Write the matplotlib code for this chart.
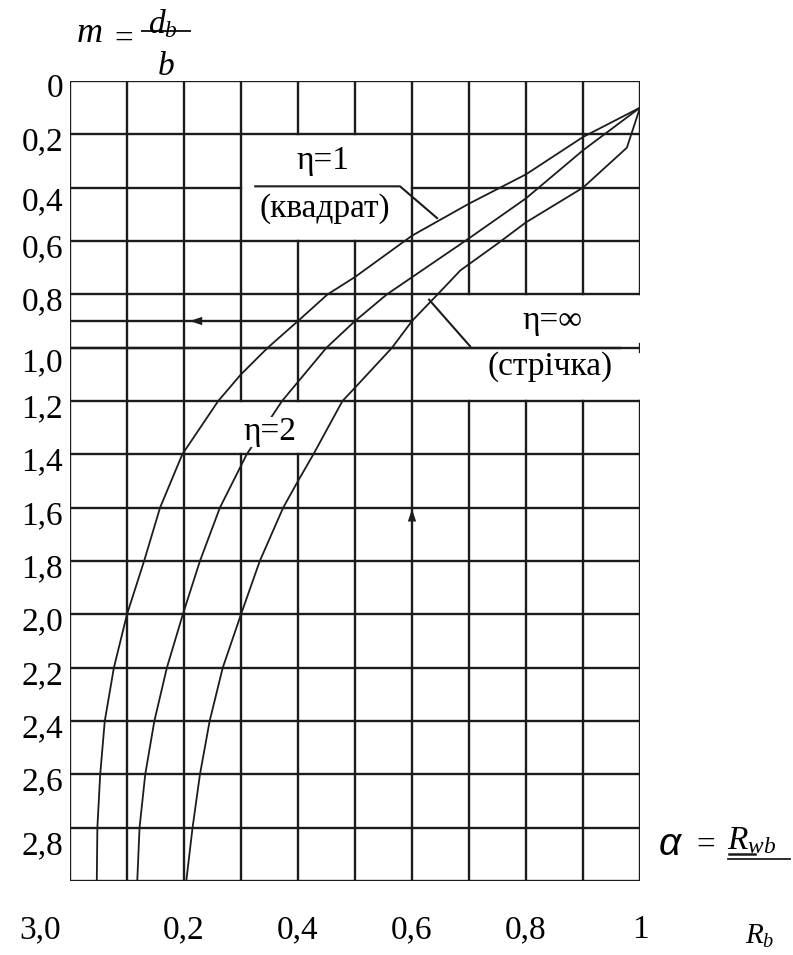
import matplotlib
matplotlib.use("Agg")
import matplotlib.pyplot as plt
from matplotlib.lines import Line2D
from matplotlib.transforms import ScaledTranslation, blended_transform_factory

plt.rcParams['font.family'] = ['Liberation Serif', 'DejaVu Serif']
plt.rcParams['mathtext.fontset'] = 'custom'
plt.rcParams['mathtext.rm'] = 'Liberation Serif'
plt.rcParams['mathtext.it'] = 'Liberation Serif:italic'

# curves: m = d_b / b (down) against alpha = R_wb / R_b
m_eta1 = [0.10, 0.21, 0.35, 0.46, 0.58, 0.735, 0.80, 0.90, 1.00, 1.10, 1.20,
          1.40, 1.60, 1.80, 2.00, 2.20, 2.40, 2.60, 2.80, 3.00]
a_eta1 = [1.00, 0.90, 0.80, 0.70, 0.60, 0.50, 0.452, 0.40, 0.347, 0.30, 0.26,
          0.197, 0.158, 0.13, 0.10, 0.077, 0.061, 0.053, 0.048, 0.047]

m_eta2 = [0.10, 0.26, 0.44, 0.59, 0.80, 0.90, 1.00, 1.20, 1.40, 1.60, 1.80,
          2.00, 2.20, 2.40, 2.60, 2.80, 3.00]
a_eta2 = [1.00, 0.90, 0.80, 0.70, 0.556, 0.50, 0.45, 0.372, 0.31, 0.263, 0.228,
          0.198, 0.170, 0.148, 0.132, 0.122, 0.118]

m_inf = [0.10, 0.25, 0.40, 0.53, 0.61, 0.71, 0.80, 0.90, 1.00, 1.15, 1.20, 1.40,
         1.50, 1.60, 1.80, 2.00, 2.20, 2.40, 2.60, 2.80, 3.00]
a_inf = [1.00, 0.977, 0.90, 0.80, 0.75, 0.685, 0.645, 0.60, 0.565, 0.50, 0.478, 0.427,
         0.40, 0.374, 0.333, 0.30, 0.268, 0.245, 0.228, 0.215, 0.204]

y_ticks = [0, 0.2, 0.4, 0.6, 0.8, 1.0, 1.2, 1.4, 1.6, 1.8, 2.0, 2.2, 2.4, 2.6, 2.8]
y_labels = ['0', '0,2', '0,4', '0,6', '0,8', '1,0', '1,2', '1,4', '1,6', '1,8',
            '2,0', '2,2', '2,4', '2,6', '2,8']
x_ticks = [0.2, 0.4, 0.6, 0.8, 1.0]
x_labels = ['0,2', '0,4', '0,6', '0,8', '1']

W, H = 793, 955
INK = '#1c1c1c'
FS = 24


def px(x, y):
    """pixel position (from top-left) -> figure fraction"""
    return x / W, 1 - y / H


fig = plt.figure(figsize=(W / 100, H / 100), dpi=100)
ax = fig.add_axes([70 / W, 1 - 881 / H, 570 / W, 800 / H])
ax.set_xlim(0, 1)
ax.set_ylim(3, 0)
ax.set_axis_off()

grid_kw = dict(color=INK, lw=1.7, solid_capstyle='projecting', zorder=1)

# vertical grid, broken where the labels sit
v_gaps = {3: [(1.2, 1.4)], 4: [(0.2, 0.6), (1.2, 1.4)], 5: [(0.2, 0.6)],
          7: [(0.8, 1.2)], 8: [(0.8, 1.2)], 9: [(0.8, 1.2)], 10: [(0.8, 1.2)]}
for i in range(11):
    x = i / 10
    start = 0
    for g0, g1 in v_gaps.get(i, []):
        ax.plot([x, x], [start, g0], **grid_kw)
        start = g1
    ax.plot([x, x], [start, 3], **grid_kw)
ax.plot([1, 1], [0.985, 1.015], **grid_kw)

# horizontal grid
for j in range(16):
    m = j / 5
    if j == 2:
        segs = [(0, 0.3), (0.6, 1)]
    else:
        segs = [(0, 1)]
    for x0, x1 in segs:
        ax.plot([x0, x1], [m, m], **grid_kw)
ax.plot([0, 0.6], [0.9, 0.9], **grid_kw)
ax.plot([0, 0.965], [1.0, 1.0], **grid_kw)

# reading arrows
arrow = dict(arrowstyle='-|>,head_length=0.9,head_width=0.3',
             color=INK, lw=0, shrinkA=0, shrinkB=0)
ax.annotate('', xy=(0.21, 0.9), xytext=(0.26, 0.9), arrowprops=arrow, zorder=3)
ax.annotate('', xy=(0.6, 1.605), xytext=(0.6, 1.70), arrowprops=arrow, zorder=3)

# curves
curve_kw = dict(color=INK, lw=1.3, zorder=2, solid_joinstyle='round')
ax.plot(a_eta1, m_eta1, **curve_kw)
ax.plot(a_eta2, m_eta2, **curve_kw)
ax.plot(a_inf, m_inf, **curve_kw)

# curve labels with leaders
ax.text(0.444, 0.30, 'η=1', ha='center', va='center', fontsize=FS, zorder=4)
ax.text(0.447, 0.478, '(квадрат)', ha='center', va='center', fontsize=FS, zorder=4)
ax.plot([0.325, 0.579, 0.644], [0.395, 0.395, 0.514], color=INK, lw=1.5, zorder=3)

ax.text(0.847, 0.90, 'η=∞', ha='center', va='center', fontsize=FS, zorder=4)
ax.text(0.843, 1.07, '(стрічка)', ha='center', va='center', fontsize=FS, zorder=4)
ax.plot([0.63, 0.702], [0.82, 0.995], color=INK, lw=1.5, zorder=3)

ax.text(0.351, 1.316, 'η=2', ha='center', va='center', fontsize=FS, zorder=4,
        bbox=dict(facecolor='white', edgecolor='none', pad=0))

# y tick labels, sitting a little below their lines
nudge = {0.4: 6, 1.0: 7, 2.8: 10}
for v, lab in zip(y_ticks, y_labels):
    dy = (8 + nudge.get(v, 0)) / 100
    tr = ax.transData + ScaledTranslation(0, -dy, fig.dpi_scale_trans)
    ax.text(-0.012, v, lab, transform=tr, ha='right', va='center',
            fontsize=FS, clip_on=False)

# x tick labels
xtr = blended_transform_factory(ax.transData, fig.transFigure)
for v, lab in zip(x_ticks, x_labels):
    ax.text(v, px(0, 930)[1], lab, transform=xtr, ha='center', va='center',
            fontsize=FS, clip_on=False)
fig.text(*px(40, 930), '3,0', ha='center', va='center', fontsize=FS)

# axis titles
fig.text(*px(90, 34), 'm', ha='center', va='center', fontsize=FS + 2, style='italic')
fig.text(*px(124, 40), '=', ha='center', va='center', fontsize=FS)
fig.text(*px(163, 24), '$d_b$', ha='center', va='center', fontsize=FS)
fig.add_artist(Line2D([142 / W, 190 / W], [1 - 31 / H, 1 - 31 / H], color=INK, lw=1.4))
fig.text(*px(166, 67), 'b', ha='center', va='center', fontsize=FS, style='italic')

fig.text(*px(670, 845), 'α', ha='center', va='center', fontsize=FS + 4,
         family='Liberation Sans', style='italic')
fig.text(*px(706, 845), '=', ha='center', va='center', fontsize=FS)
fig.text(*px(727, 841), '$R_{wb}$', ha='left', va='center', fontsize=FS)
fig.add_artist(Line2D([728 / W, 790 / W], [1 - 859 / H, 1 - 859 / H], color=INK, lw=1.3))
fig.add_artist(Line2D([729 / W, 755 / W], [1 - 854 / H, 1 - 854 / H], color=INK, lw=1.8))
fig.text(*px(760, 936), '$R_b$', ha='center', va='center', fontsize=FS - 3)

fig.savefig('out.png', dpi=100, facecolor='white')
